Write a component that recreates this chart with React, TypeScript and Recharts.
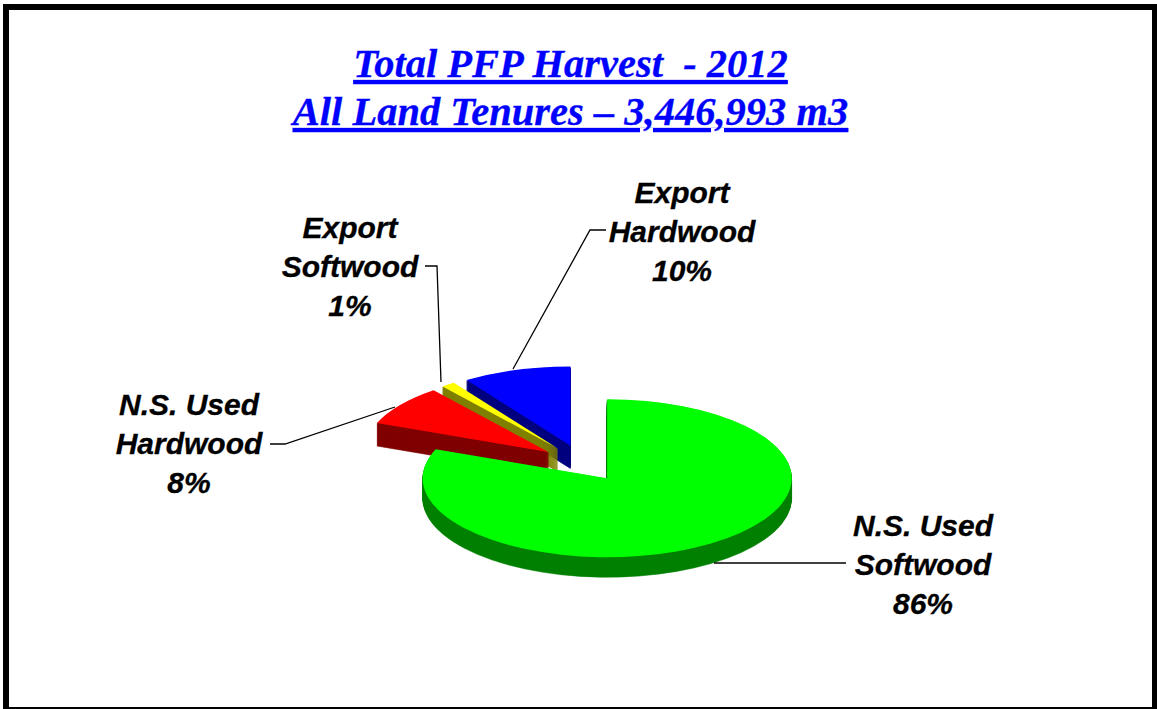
import React from 'react';
import { PieChart, Pie } from 'recharts';

const names = ['Export Hardwood', 'Export Softwood', 'N.S. Used Hardwood', 'N.S. Used Softwood'];
const values = [9.5, 1.2, 8.3, 81];
const percentLabels = ['10%', '1%', '8%', '86%'];
const topColors = ['#0000ff', '#ffff00', '#ff0000', '#00ff00'];
const sideColors = ['#000080', '#808000', '#800000', '#008000'];
const depths = [23, 23, 23, 20];
const labelLines = [
  [['Export', 'Hardwood'], 682, 203],
  [['Export', 'Softwood'], 350, 238],
  [['N.S. Used', 'Hardwood'], 189, 415],
  [['N.S. Used', 'Softwood'], 923, 536],
] as const;
const leaders = [
  '513,369 590,230 606,230',
  '441,382 437,266 425,266',
  '395,407 285,444 270,444',
  '714,563 846,563',
];
const titleLines = ['Total PFP Harvest  - 2012', 'All Land Tenures \u2013 3,446,993 m3'];

const K = 0.428;
const EXPLODE = 43;
const RAD = Math.PI / 180;

const table = names.map((name, i) => ({ name, value: values[i], fill: topColors[i], side: sideColors[i], depth: depths[i] }));

function Slice(props: any) {
  const { cx, cy, outerRadius: r, startAngle, endAngle, fill, side, depth, payload } = props;
  const sideFill = side ?? payload?.side;
  const wall = depth ?? payload?.depth ?? 20;
  const mid = ((startAngle + endAngle) / 2) * RAD;
  const ax = cx + EXPLODE * Math.cos(mid);
  const ay = cy - EXPLODE * K * Math.sin(mid);
  const pt = (a: number) => [ax + r * Math.cos(a * RAD), ay - r * K * Math.sin(a * RAD)];
  const [sx, sy] = pt(startAngle);
  const [ex, ey] = pt(endAngle);
  const large = Math.abs(endAngle - startAngle) > 180 ? 1 : 0;
  const d = `M${ax} ${ay}L${sx} ${sy}A${r} ${r * K} 0 ${large} 0 ${ex} ${ey}Z`;
  const layers = [];
  for (let y = wall; y > 0; y--) {
    layers.push(<path key={y} d={d} fill={sideFill} stroke={sideFill} strokeWidth={0.6} transform={`translate(0 ${y})`} />);
  }
  return (
    <g>
      {layers}
      <path d={d} fill={fill} />
    </g>
  );
}

const labelStyle: React.CSSProperties = {
  fontFamily: '"Liberation Sans", Arial, sans-serif',
  fontWeight: 'bold',
  fontStyle: 'italic',
  fontSize: 30,
  stroke: '#000',
  strokeWidth: 0.3,
};

function SliceLabel(props: any) {
  const i = props.index;
  const [lines, x, y] = labelLines[i];
  const rows = [...lines, percentLabels[i]];
  return (
    <g>
      <polyline points={leaders[i]} fill="none" stroke="#000" strokeWidth={1.3} />
      {rows.map((t, j) => (
        <text key={j} x={x} y={y + j * 39} textAnchor="middle" fill="#000" style={labelStyle}>{t}</text>
      ))}
    </g>
  );
}

export default function App() {
  return (
    <div style={{ position: 'absolute', left: 0, top: 0, width: 1157, height: 709, background: '#fff' }}>
      <PieChart width={1157} height={709} margin={{ top: 0, right: 0, bottom: 0, left: 0 }}>
        <path d="M3 4H1157V709H3ZM9 10V707H1152V10Z" fill="#000" fillRule="evenodd" />
        {titleLines.map((t, i) => (
          <text
            key={i}
            x={570.5}
            y={77 + i * 48}
            textAnchor="middle"
            fill="#0000ff"
            xmlSpace="preserve"
            style={{
              fontFamily: '"Liberation Serif", "Times New Roman", serif',
              fontWeight: 'bold',
              fontStyle: 'italic',
              fontSize: 40.5,
              textDecoration: 'underline',
              whiteSpace: 'pre',
              stroke: '#0000ff',
              strokeWidth: 0.3,
            }}
          >
            {t}
          </text>
        ))}
        <Pie
          data={table}
          dataKey="value"
          nameKey="name"
          cx={583}
          cy={463}
          innerRadius={0}
          outerRadius={184.5}
          startAngle={90}
          endAngle={450}
          paddingAngle={0}
          stroke="none"
          isAnimationActive={false}
          shape={Slice}
          label={SliceLabel}
          labelLine={false}
        />
      </PieChart>
    </div>
  );
}
